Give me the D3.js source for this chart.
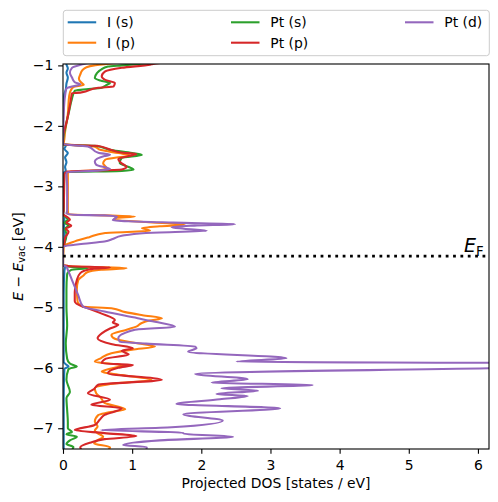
<!DOCTYPE html>
<html><head><meta charset="utf-8">
<script src="https://cdn.jsdelivr.net/npm/d3@7"></script>
<style>body{margin:0;background:#fff}</style>
</head><body>
<svg id="chart" width="498" height="502"></svg>
<script>
// ---- data ----
const seriesNames = ["I (s)", "I (p)", "Pt (s)", "Pt (p)", "Pt (d)"];
const seriesColors = ["#1f77b4", "#ff7f0e", "#2ca02c", "#d62728", "#9467bd"];
const xTicks = [0, 1, 2, 3, 4, 5, 6];
const yTicks = [-7, -6, -5, -4, -3, -2, -1];
const fermiLevel = -4.155;

// each entry: [energy (eV), projected DOS (states/eV)]
const I_s = [
[-0.90,0.06],[-0.98,0.05],[-1.05,0.07],[-1.12,0.05],[-1.20,0.07],[-1.30,0.05],[-1.40,0.04],[-1.47,0.02],[-1.60,0.01],[-2.00,0.0],[-2.30,0.0],
[-2.33,0.04],[-2.38,0.02],[-2.45,0.07],[-2.52,0.03],[-2.60,0.05],[-2.68,0.03],[-2.74,0.04],[-2.78,0.01],[-3.00,0.005],[-3.45,0.005],
[-3.50,0.02],[-3.65,0.015],[-3.80,0.02],[-3.97,0.01],[-4.02,0.0],[-4.30,0.0],
[-4.33,0.03],[-4.40,0.02],[-4.80,0.01],[-5.50,0.01],[-5.90,0.01],[-5.95,0.05],[-5.98,0.08],[-6.02,0.02],[-6.50,0.01],[-7.00,0.01],[-7.40,0.01]
];
const I_p = [
[-0.90,1.3],[-0.977,0.63],[-1.00,0.45],[-1.03,0.34],[-1.08,0.28],[-1.15,0.25],[-1.22,0.23],[-1.28,0.26],[-1.32,0.30],[-1.36,0.15],[-1.42,0.11],[-1.50,0.09],[-1.80,0.07],[-2.10,0.03],[-2.28,0.01],[-2.305,0.0],
[-2.32,0.2],[-2.34,0.45],[-2.40,0.55],[-2.45,0.8],[-2.494,0.99],[-2.52,0.8],[-2.56,0.61],[-2.62,0.58],[-2.70,0.63],[-2.73,0.55],[-2.755,0.12],[-2.78,0.07],[-3.00,0.07],[-3.40,0.07],[-3.465,0.08],
[-3.48,0.6],[-3.50,1.04],[-3.52,0.78],[-3.55,0.74],[-3.59,1.2],[-3.636,1.76],[-3.66,1.4],[-3.69,1.14],[-3.71,1.2],[-3.735,1.26],[-3.77,0.61],[-3.84,0.38],[-3.91,0.17],[-3.96,0.05],[-4.00,0.01],[-4.30,0.0],
[-4.32,0.1],[-4.34,0.6],[-4.355,0.92],[-4.38,0.55],[-4.42,0.35],[-4.47,0.3],[-4.55,0.22],[-4.70,0.2],[-4.90,0.21],[-4.99,0.29],[-5.015,0.70],[-5.08,0.9],[-5.13,1.15],[-5.18,1.43],[-5.22,1.25],[-5.26,1.14],[-5.32,1.06],[-5.37,0.92],[-5.456,0.70],[-5.52,0.75],[-5.59,1.05],[-5.65,1.33],[-5.70,1.0],[-5.76,0.7],[-5.84,0.55],[-5.90,0.46],[-5.96,0.87],[-6.01,0.7],[-6.064,0.56],[-6.12,0.85],[-6.20,1.28],[-6.26,0.75],[-6.34,0.46],[-6.42,0.48],[-6.50,0.55],[-6.58,0.6],[-6.686,0.9],[-6.74,0.65],[-6.78,0.51],[-6.89,0.46],[-6.97,0.5],[-7.04,0.46],[-7.08,0.5],[-7.14,0.58],[-7.20,0.5],[-7.25,0.45],[-7.315,0.68],[-7.40,0.6]
];
const Pt_s = [
[-0.90,1.8],[-0.977,1.1],[-1.00,0.85],[-1.02,0.65],[-1.07,0.55],[-1.13,0.49],[-1.21,0.46],[-1.25,0.54],[-1.29,0.68],[-1.33,0.62],[-1.37,0.56],[-1.40,0.29],[-1.42,0.17],[-1.55,0.13],[-1.80,0.08],[-2.05,0.03],[-2.25,0.0],[-2.305,0.0],
[-2.32,0.2],[-2.33,0.46],[-2.40,0.7],[-2.45,1.0],[-2.48,1.14],[-2.53,0.85],[-2.615,0.82],[-2.68,0.95],[-2.726,1.02],[-2.745,0.85],[-2.765,0.06],[-2.80,0.02],[-3.40,0.01],
[-3.46,0.0],[-3.50,0.03],[-3.55,0.07],[-3.60,0.02],[-3.65,0.08],[-3.70,0.03],[-3.80,0.05],[-3.95,0.02],[-4.00,0.0],[-4.30,0.0],
[-4.33,0.1],[-4.355,0.36],[-4.38,0.12],[-4.45,0.06],[-4.70,0.05],[-5.00,0.05],[-5.30,0.06],[-5.60,0.04],[-5.85,0.06],[-5.93,0.1],[-5.98,0.2],[-6.02,0.08],[-6.20,0.05],[-6.40,0.1],[-6.50,0.05],[-6.70,0.06],[-6.90,0.07],[-7.00,0.07],[-7.06,0.13],[-7.10,0.05],[-7.14,0.2],[-7.20,0.1],[-7.26,0.05],[-7.31,0.15],[-7.40,0.1]
];
const Pt_p = [
[-0.90,2.0],[-0.977,1.3],[-0.988,1.26],[-1.04,0.85],[-1.10,0.61],[-1.18,0.56],[-1.24,0.61],[-1.29,0.75],[-1.35,0.73],[-1.37,0.51],[-1.45,0.25],[-1.46,0.13],[-1.60,0.11],[-1.90,0.06],[-2.20,0.0],[-2.305,0.0],
[-2.32,0.2],[-2.33,0.49],[-2.40,0.7],[-2.44,0.84],[-2.466,1.06],[-2.50,0.95],[-2.55,0.8],[-2.62,0.85],[-2.68,0.92],[-2.72,0.85],[-2.754,0.06],[-2.80,0.02],[-3.40,0.01],
[-3.46,0.0],[-3.50,0.05],[-3.55,0.1],[-3.60,0.05],[-3.65,0.12],[-3.70,0.04],[-3.75,0.08],[-3.85,0.03],[-3.95,0.02],[-4.00,0.0],[-4.30,0.0],
[-4.32,0.1],[-4.34,0.68],[-4.36,0.45],[-4.40,0.3],[-4.435,0.25],[-4.55,0.2],[-4.75,0.17],[-4.90,0.17],[-4.99,0.29],[-5.015,0.36],[-5.10,0.55],[-5.21,0.75],[-5.25,0.72],[-5.29,0.8],[-5.35,0.68],[-5.43,0.56],[-5.51,0.5],[-5.61,0.71],[-5.676,1.01],[-5.72,0.85],[-5.78,0.95],[-5.85,0.62],[-5.925,0.56],[-5.953,1.01],[-6.00,0.8],[-6.09,0.65],[-6.20,1.43],[-6.28,0.51],[-6.35,0.45],[-6.42,0.36],[-6.53,0.68],[-6.61,0.41],[-6.67,0.85],[-6.78,0.6],[-6.86,0.53],[-6.95,0.45],[-7.03,0.17],[-7.08,0.6],[-7.13,1.06],[-7.18,0.6],[-7.24,0.39],[-7.315,0.25],[-7.40,0.3]
];
const Pt_d = [
[-0.90,0.6],[-0.977,0.3],[-1.04,0.13],[-1.12,0.10],[-1.20,0.13],[-1.28,0.17],[-1.31,0.25],[-1.35,0.13],[-1.38,0.05],[-1.50,0.03],[-1.80,0.01],[-2.30,0.0],
[-2.32,0.15],[-2.34,0.36],[-2.445,0.51],[-2.478,0.68],[-2.50,0.6],[-2.59,0.46],[-2.643,0.48],[-2.715,0.68],[-2.74,0.5],[-2.765,0.06],[-2.80,0.05],[-3.00,0.06],[-3.40,0.06],[-3.45,0.05],
[-3.47,0.15],[-3.48,0.6],[-3.50,0.78],[-3.53,0.75],[-3.56,0.72],[-3.60,1.6],[-3.625,2.49],[-3.65,1.9],[-3.675,1.57],[-3.70,1.75],[-3.735,2.08],[-3.77,1.2],[-3.818,0.85],[-3.87,0.72],[-3.912,0.6],[-3.95,0.3],[-3.967,0.17],[-3.995,0.0],[-4.30,0.0],
[-4.33,0.05],[-4.38,0.07],[-4.55,0.13],[-4.80,0.22],[-4.99,0.29],[-5.07,0.6],[-5.18,1.08],[-5.24,1.33],[-5.32,1.62],[-5.37,1.04],[-5.51,0.8],[-5.567,0.82],[-5.60,1.2],[-5.65,1.91],[-5.677,1.93],[-5.733,1.81],[-5.842,3.23],[-5.899,2.51],[-5.918,6.16],[-5.935,9.5],[-6.008,6.16],[-6.10,1.91],[-6.19,2.67],[-6.246,2.15],[-6.284,3.61],[-6.339,2.29],[-6.378,2.82],[-6.433,2.22],[-6.466,2.67],[-6.521,2.27],[-6.598,1.64],[-6.669,3.14],[-6.769,1.74],[-6.874,2.31],[-6.984,1.57],[-7.03,0.55],[-7.073,1.74],[-7.09,1.74],[-7.139,2.46],[-7.20,1.4],[-7.276,0.87],[-7.31,1.21],[-7.40,1.2]
];
const seriesData = [I_s, I_p, Pt_s, Pt_p, Pt_d];

// ---- layout ----
const FONT = "DejaVu Sans, sans-serif";
const FS = 13.9;
const L = 63, R = 489, T = 64, B = 449;
const svg = d3.select("#chart");

const x = d3.scaleLinear().domain([0, 6.16]).range([L, R]);
const y = d3.scaleLinear().domain([-7.343, -0.977]).range([B, T]);

svg.append("defs").append("clipPath").attr("id", "plotclip")
  .append("rect").attr("x", L).attr("y", T).attr("width", R - L).attr("height", B - T);

const plot = svg.append("g").attr("clip-path", "url(#plotclip)");

const line = d3.line()
  .x(d => x(d[1]))
  .y(d => y(d[0]))
  .curve(d3.curveMonotoneY);

seriesData.forEach((arr, i) => {
  const sorted = arr.slice().sort((a, b) => a[0] - b[0]);
  plot.append("path")
    .attr("d", line(sorted))
    .attr("fill", "none")
    .attr("stroke", seriesColors[i])
    .attr("stroke-width", 2.08)
    .attr("stroke-linejoin", "round")
    .attr("stroke-linecap", "butt");
});

// Fermi level
plot.append("line")
  .attr("x1", x(0)).attr("x2", x(6.16))
  .attr("y1", y(fermiLevel)).attr("y2", y(fermiLevel))
  .attr("stroke", "#000").attr("stroke-width", 2.78)
  .attr("stroke-dasharray", "2.78,4.58");

const ef = svg.append("text")
  .attr("x", 464).attr("y", 252)
  .attr("font-family", FONT).attr("font-size", 19)
  .attr("fill", "#000");
ef.append("tspan").attr("font-style", "italic").text("E");
ef.append("tspan").attr("font-size", 13.3).attr("dy", 3.5).text("F");

// axes
const xAxis = d3.axisBottom(x).tickValues(xTicks).tickSize(4.86).tickPadding(4.86)
  .tickSizeOuter(0).tickFormat(d => String(d));
const gx = svg.append("g").attr("transform", `translate(0,${B})`).call(xAxis);
const yAxis = d3.axisLeft(y).tickValues(yTicks).tickSize(4.86).tickPadding(4.86)
  .tickSizeOuter(0).tickFormat(d => (d < 0 ? "\u2212" : "") + Math.abs(d));
const gy = svg.append("g").attr("transform", `translate(${L},0)`).call(yAxis);
[gx, gy].forEach(g => {
  g.select(".domain").remove();
  g.selectAll(".tick line").attr("stroke", "#000").attr("stroke-width", 1.1);
  g.selectAll(".tick text").attr("fill", "#000").attr("font-family", FONT).attr("font-size", FS);
});
gx.selectAll(".tick text").attr("dy", "0.78em");

// frame
svg.append("rect").attr("x", L).attr("y", T).attr("width", R - L).attr("height", B - T)
  .attr("fill", "none").attr("stroke", "#000").attr("stroke-width", 1.1);

// axis labels
svg.append("text")
  .attr("x", (L + R) / 2).attr("y", 488)
  .attr("text-anchor", "middle")
  .attr("font-family", FONT).attr("font-size", FS).attr("fill", "#000")
  .text("Projected DOS [states / eV]");

const yl = svg.append("text")
  .attr("transform", `translate(22.5,${(T + B) / 2}) rotate(-90)`)
  .attr("text-anchor", "middle")
  .attr("font-family", FONT).attr("font-size", FS).attr("fill", "#000");
yl.append("tspan").attr("font-style", "italic").text("E");
yl.append("tspan").text(" \u2212 ");
yl.append("tspan").attr("font-style", "italic").text("E");
yl.append("tspan").attr("font-size", 9.7).attr("dy", 2.6).text("vac");
yl.append("tspan").attr("dy", -2.6).text(" [eV]");

// legend
const lg = svg.append("g");
lg.append("rect").attr("x", 63.3).attr("y", 10.3).attr("width", 426).attr("height", 45.4)
  .attr("rx", 2.8).attr("fill", "#fff").attr("fill-opacity", 0.8)
  .attr("stroke", "#cccccc").attr("stroke-width", 1);
const colX = [67.7, 231, 405];
const rowY = [22.3, 42.7];
seriesNames.forEach((name, i) => {
  const cx = colX[Math.floor(i / 2)], cy = rowY[i % 2];
  lg.append("line").attr("x1", cx).attr("x2", cx + 28.5).attr("y1", cy).attr("y2", cy)
    .attr("stroke", seriesColors[i]).attr("stroke-width", 2.08);
  lg.append("text").attr("x", cx + 39.3).attr("y", cy + 4.8)
    .attr("font-family", FONT).attr("font-size", FS).attr("fill", "#000")
    .text(name);
});
</script>
</body></html>
